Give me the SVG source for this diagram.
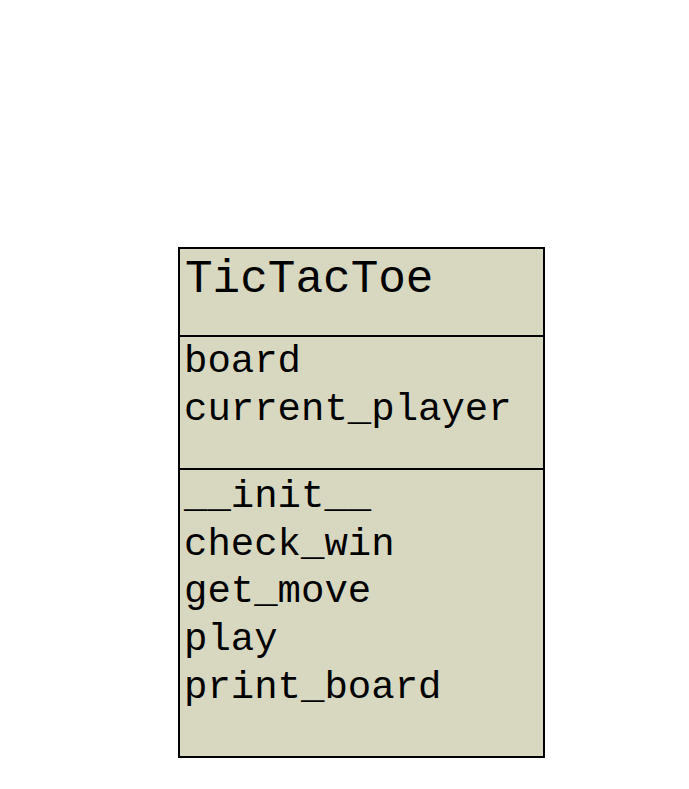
<svg xmlns="http://www.w3.org/2000/svg" width="689" height="789" viewBox="0 0 689 789">
<style>
.box{fill:#d8d8c0;stroke:#000;stroke-width:2}
.div{stroke:#000;stroke-width:2}
.t{font-family:"Liberation Mono","Courier New",monospace;fill:#000}
.title{font-size:46px}
.m{font-size:39px}
</style>
<rect width="689" height="789" fill="#fff"/>
<g id="TicTacToe">
<rect class="box" x="179" y="248" width="365" height="509"/>
<line class="div" x1="179" y1="336" x2="544" y2="336"/>
<line class="div" x1="179" y1="469" x2="544" y2="469"/>
<text class="t title" x="185" y="292">TicTacToe</text>
<text class="t m" x="184" y="372">board</text>
<text class="t m" x="184" y="420">current_player</text>
<text class="t m" x="184" y="507">__init__</text>
<text class="t m" x="184" y="555">check_win</text>
<text class="t m" x="184" y="602">get_move</text>
<text class="t m" x="184" y="650">play</text>
<text class="t m" x="184" y="698">print_board</text>
</g>
<g id="connectors"></g>
</svg>
